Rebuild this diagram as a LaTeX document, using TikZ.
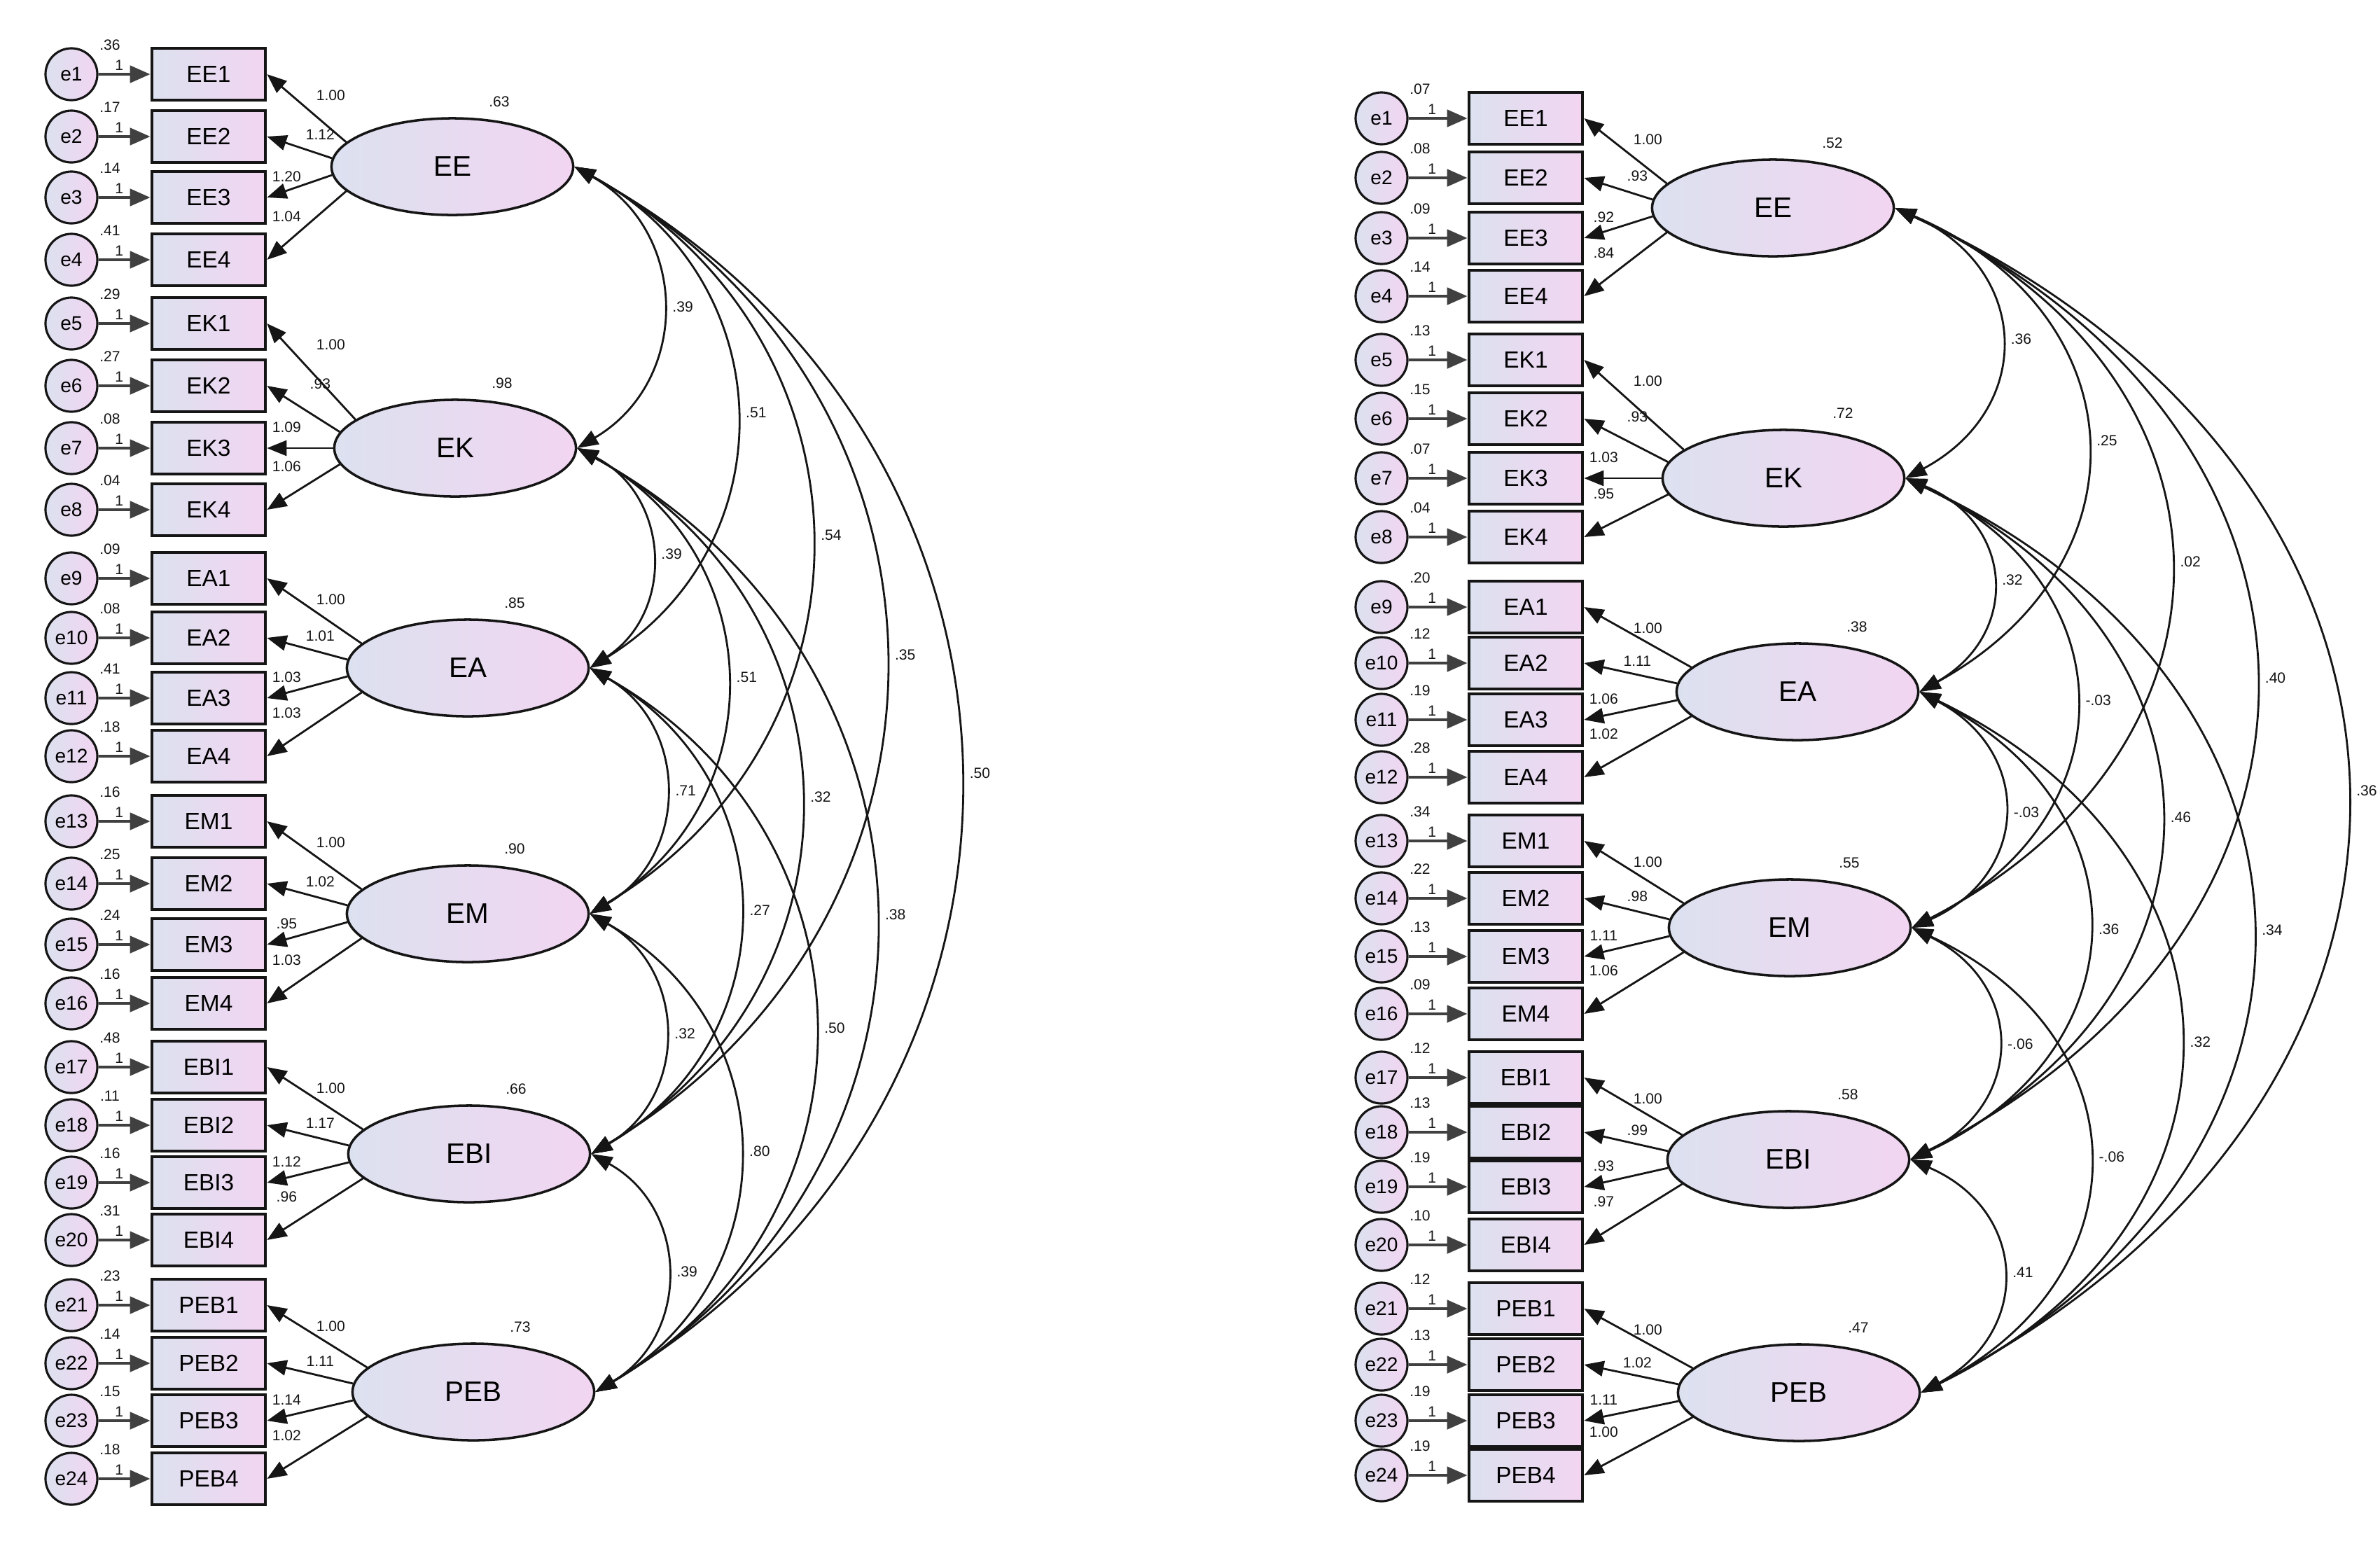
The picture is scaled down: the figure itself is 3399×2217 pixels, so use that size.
\documentclass[tikz,border=0pt]{standalone}
\usepackage{fontspec}
\setmainfont{Liberation Sans}
\usetikzlibrary{arrows.meta, shapes.geometric, calc}
\definecolor{ink}{HTML}{151515}
\definecolor{shl}{HTML}{DCE1F0}
\definecolor{shr}{HTML}{F2D5F1}
\tikzset{grad/.style={left color=shl, right color=shr},
  errc/.style={circle, grad, draw=ink, line width=0.9pt, minimum size=0.74cm, inner sep=0pt, font=\fontsize{8}{9}\selectfont},
  obs/.style={rectangle, grad, draw=ink, line width=1.3pt, minimum width=1.62cm, minimum height=0.74cm, inner sep=0pt, font=\fontsize{9.5}{10}\selectfont},
  lat/.style={ellipse, grad, draw=ink, line width=1pt, minimum width=3.45cm, minimum height=1.38cm, inner sep=0pt, font=\fontsize{11.5}{12}\selectfont},
  num/.style={font=\fontsize{6}{7}\selectfont, inner sep=1pt, text=ink},
  eline/.style={-{Triangle[length=0.29cm,width=0.24cm]}, line width=1.4pt, draw=black!75},
  load/.style={-{Triangle[length=0.28cm,width=0.22cm]}, line width=0.8pt, draw=ink},
  cov/.style={{Triangle[length=0.3cm,width=0.22cm]}-{Triangle[length=0.3cm,width=0.22cm]}, line width=0.8pt, draw=ink}}

\begin{document}
\begin{tikzpicture}[x=0.01cm, y=-0.01cm]
  \useasboundingbox (0,0) rectangle (3399,2217);
  % first model
  \foreach \n/\x/\y/\v in {EE/646/238/.63, EK/650/640/.98, EA/668/954/.85, EM/668/1305/.90, EBI/670/1648/.66, PEB/676/1988/.73}{
     \node[lat] (l\n) at (\x,\y) {\n};
     \node[num] at ($(l\n)+(67,-93)$) {\v};}
  \foreach \i/\y/\ev/\n/\k/\ld/\ang in {1/106/.36/EE/1/1.00/167, 2/195/.17/EE/2/1.12/176, 3/282/.14/EE/3/1.20/184, 4/371/.41/EE/4/1.04/193,
       5/462/.29/EK/1/1.00/164, 6/551/.27/EK/2/.93/172, 7/640/.08/EK/3/1.09/180, 8/728/.04/EK/4/1.06/188,
       9/826/.09/EA/1/1.00/167, 10/911/.08/EA/2/1.01/176, 11/997/.41/EA/3/1.03/184, 12/1080/.18/EA/4/1.03/193,
       13/1173/.16/EM/1/1.00/167, 14/1262/.25/EM/2/1.02/176, 15/1349/.24/EM/3/.95/184, 16/1433/.16/EM/4/1.03/193,
       17/1524/.48/EBI/1/1.00/167, 18/1607/.11/EBI/2/1.17/176, 19/1689/.16/EBI/3/1.12/184, 20/1771/.31/EBI/4/.96/193,
       21/1864/.23/PEB/1/1.00/167, 22/1947/.14/PEB/2/1.11/176, 23/2029/.15/PEB/3/1.14/184, 24/2112/.18/PEB/4/1.02/193}{
     \node[errc] (le\i) at (102,\y) {e\i};
     \node[obs] (lb\i) at (298,\y) {\n\k};
     \draw[eline] (le\i) -- node[num, pos=0.4, above] {1} (lb\i);
     \node[num] at ($(le\i)+(55,-42)$) {\ev};
     \draw[load] (l\n.\ang) -- (lb\i.east);
     \pgfmathsetmacro\dx{{91,76,28,28}[\k-1]}\pgfmathsetmacro\dy{{30,-3,-30,-62}[\k-1]}
     \node[num] at ($(lb\i.east)+(\dx,\dy)$) {\ld};}
  \foreach \pa/\pb/\cv in {EE/EK/.39, EE/EA/.51, EE/EM/.54, EE/EBI/.35, EE/PEB/.50, EK/EA/.39, EK/EM/.51, EK/EBI/.32,
       EK/PEB/.38, EA/EM/.71, EA/EBI/.27, EA/PEB/.50, EM/EBI/.32, EM/PEB/.80, EBI/PEB/.39}{
     \draw[cov] (l\pa.east) to[bend left=60, looseness=1.2] node[num, midway, right=3pt] {\cv} (l\pb.east);}
  % second model
  \foreach \n/\x/\y/\v in {EE/2532/297/.52, EK/2547/683/.72, EA/2567/988/.38, EM/2556/1325/.55, EBI/2554/1656/.58, PEB/2569/1989/.47}{
     \node[lat] (r\n) at (\x,\y) {\n};
     \node[num] at ($(r\n)+(85,-93)$) {\v};}
  \foreach \i/\y/\ev/\n/\k/\ld/\ang in {1/169/.07/EE/1/1.00/167, 2/254/.08/EE/2/.93/176, 3/340/.09/EE/3/.92/184, 4/423/.14/EE/4/.84/193,
       5/514/.13/EK/1/1.00/164, 6/598/.15/EK/2/.93/172, 7/683/.07/EK/3/1.03/180, 8/767/.04/EK/4/.95/188,
       9/867/.20/EA/1/1.00/167, 10/947/.12/EA/2/1.11/176, 11/1028/.19/EA/3/1.06/184, 12/1110/.28/EA/4/1.02/193,
       13/1201/.34/EM/1/1.00/167, 14/1283/.22/EM/2/.98/176, 15/1366/.13/EM/3/1.11/184, 16/1448/.09/EM/4/1.06/193,
       17/1539/.12/EBI/1/1.00/167, 18/1617/.13/EBI/2/.99/176, 19/1695/.19/EBI/3/.93/184, 20/1778/.10/EBI/4/.97/193,
       21/1869/.12/PEB/1/1.00/167, 22/1949/.13/PEB/2/1.02/176, 23/2029/.19/PEB/3/1.11/184, 24/2107/.19/PEB/4/1.00/193}{
     \node[errc] (re\i) at (1973,\y) {e\i};
     \node[obs] (rb\i) at (2179,\y) {\n\k};
     \draw[eline] (re\i) -- node[num, pos=0.4, above] {1} (rb\i);
     \node[num] at ($(re\i)+(55,-42)$) {\ev};
     \draw[load] (r\n.\ang) -- (rb\i.east);
     \pgfmathsetmacro\dx{{91,76,28,28}[\k-1]}\pgfmathsetmacro\dy{{30,-3,-30,-62}[\k-1]}
     \node[num] at ($(rb\i.east)+(\dx,\dy)$) {\ld};}
  \foreach \pa/\pb/\cv in {EE/EK/.36, EE/EA/.25, EE/EM/.02, EE/EBI/.40, EE/PEB/.36, EK/EA/.32, EK/EM/-.03, EK/EBI/.46,
       EK/PEB/.34, EA/EM/-.03, EA/EBI/.36, EA/PEB/.32, EM/EBI/-.06, EM/PEB/-.06, EBI/PEB/.41}{
     \draw[cov] (r\pa.east) to[bend left=64, looseness=1.4] node[num, midway, right=3pt] {\cv} (r\pb.east);}
\end{tikzpicture}
\end{document}
